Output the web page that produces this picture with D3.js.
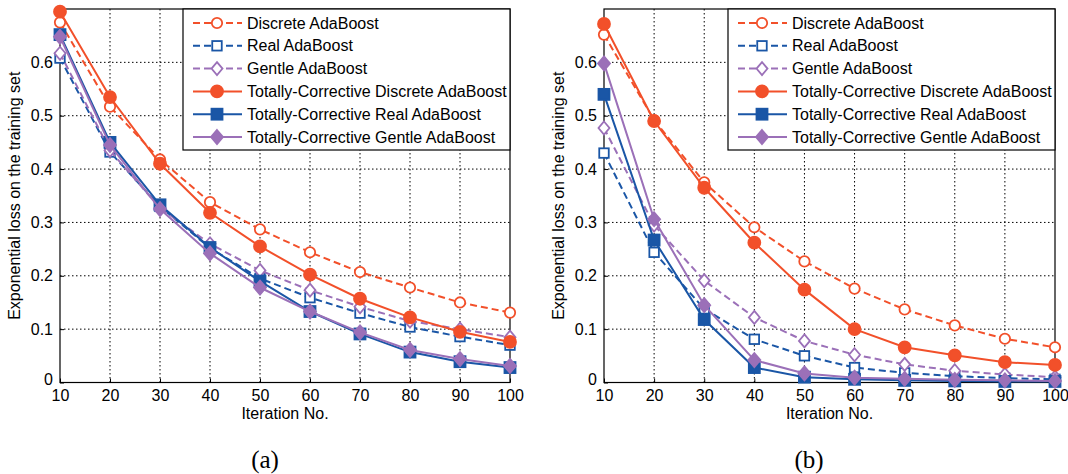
<!DOCTYPE html>
<html>
<head>
<meta charset="utf-8">
<script src="https://cdn.jsdelivr.net/npm/d3@7"></script>
<style>
  body { margin: 0; background: #fff; }
  text { font-family: "Liberation Sans", Arial, sans-serif; }
</style>
</head>
<body>
<svg id="chart" width="1068" height="474"></svg>
<script>
// iteration numbers on the x axis
const iterations = [10, 20, 30, 40, 50, 60, 70, 80, 90, 100];
const yTicks = [0, 0.1, 0.2, 0.3, 0.4, 0.5, 0.6];

const seriesNames = [
  "Discrete AdaBoost",
  "Real AdaBoost",
  "Gentle AdaBoost",
  "Totally-Corrective Discrete AdaBoost",
  "Totally-Corrective Real AdaBoost",
  "Totally-Corrective Gentle AdaBoost"
];

// panel (a)
const aDiscrete   = [0.675, 0.517, 0.418, 0.338, 0.287, 0.244, 0.207, 0.178, 0.150, 0.131];
const aReal       = [0.608, 0.432, 0.330, 0.252, 0.195, 0.159, 0.130, 0.104, 0.086, 0.070];
const aGentle     = [0.617, 0.435, 0.327, 0.260, 0.210, 0.173, 0.142, 0.115, 0.100, 0.085];
const aTCDiscrete = [0.695, 0.535, 0.410, 0.318, 0.255, 0.202, 0.157, 0.122, 0.095, 0.076];
const aTCReal     = [0.652, 0.450, 0.333, 0.253, 0.190, 0.133, 0.091, 0.057, 0.039, 0.028];
const aTCGentle   = [0.648, 0.445, 0.325, 0.242, 0.178, 0.133, 0.094, 0.061, 0.044, 0.031];

// panel (b)
const bDiscrete   = [0.652, 0.492, 0.375, 0.291, 0.227, 0.176, 0.137, 0.107, 0.082, 0.066];
const bReal       = [0.430, 0.244, 0.138, 0.081, 0.050, 0.028, 0.018, 0.012, 0.008, 0.006];
const bGentle     = [0.477, 0.295, 0.191, 0.122, 0.078, 0.052, 0.034, 0.022, 0.015, 0.010];
const bTCDiscrete = [0.672, 0.490, 0.365, 0.262, 0.174, 0.100, 0.066, 0.051, 0.038, 0.033];
const bTCReal     = [0.540, 0.267, 0.118, 0.028, 0.010, 0.006, 0.004, 0.003, 0.002, 0.002];
const bTCGentle   = [0.598, 0.306, 0.145, 0.042, 0.017, 0.009, 0.007, 0.005, 0.004, 0.003];

const orange = "#f2502a", blue = "#1a56a6", purple = "#9b70b8";
const styles = [
  {color: orange, dash: "7,4", marker: "circle", filled: false},
  {color: blue,   dash: "7,4", marker: "square", filled: false},
  {color: purple, dash: "7,4", marker: "diamond", filled: false},
  {color: orange, dash: null,  marker: "circle", filled: true},
  {color: blue,   dash: null,  marker: "square", filled: true},
  {color: purple, dash: null,  marker: "diamond", filled: true}
];

const fs = 16;
const svg = d3.select("#chart");

function drawMarker(g, style, x, y) {
  const fill = style.filled ? style.color : "#fff";
  const sw = 1.8;
  if (style.marker === "circle") {
    g.append("circle").attr("cx", x).attr("cy", y)
      .attr("r", style.filled ? 6 : 5.2)
      .attr("fill", fill).attr("stroke", style.color).attr("stroke-width", sw);
  } else if (style.marker === "square") {
    const s = style.filled ? 11 : 9.5;
    g.append("rect").attr("x", x - s / 2).attr("y", y - s / 2)
      .attr("width", s).attr("height", s)
      .attr("fill", fill).attr("stroke", style.color).attr("stroke-width", sw);
  } else {
    const h = style.filled ? 7 : 6.5, w = style.filled ? 6 : 5.5;
    g.append("path")
      .attr("d", `M${x},${y - h}L${x + w},${y}L${x},${y + h}L${x - w},${y}Z`)
      .attr("fill", fill).attr("stroke", style.color).attr("stroke-width", sw);
  }
}

function drawPanel(opts) {
  const x = d3.scaleLinear().domain([10, 100]).range([opts.left, opts.right]);
  const y = d3.scaleLinear().domain([0, 0.7]).range([382.5, 9]);
  const g = svg.append("g");

  // grid
  g.selectAll(".vgrid").data(iterations.slice(1, -1)).enter().append("line")
    .attr("x1", d => x(d)).attr("x2", d => x(d))
    .attr("y1", y(0)).attr("y2", y(0.7))
    .attr("stroke", "#000").attr("stroke-width", 1).attr("stroke-dasharray", "1.5,2.5");
  g.selectAll(".hgrid").data(yTicks.slice(1)).enter().append("line")
    .attr("x1", x(10)).attr("x2", x(100))
    .attr("y1", d => y(d)).attr("y2", d => y(d))
    .attr("stroke", "#000").attr("stroke-width", 1).attr("stroke-dasharray", "1.5,2.5");

  // axes
  const xAxis = g.append("g").attr("transform", `translate(0,${y(0)})`)
    .call(d3.axisBottom(x).tickValues(iterations).tickSize(-4).tickPadding(7));
  const yAxis = g.append("g").attr("transform", `translate(${x(10)},0)`)
    .call(d3.axisLeft(y).tickValues(yTicks).tickSize(-4).tickPadding(7)
      .tickFormat(d => d === 0 ? "0" : d.toFixed(1)));
  [xAxis, yAxis].forEach(a => {
    a.select(".domain").remove();
    a.selectAll("text").attr("font-size", fs).attr("fill", "#000")
      .attr("font-family", "'Liberation Sans', Arial, sans-serif");
  });
  // the "0" label sits in the corner next to "10", lift it a little
  yAxis.selectAll(".tick").filter(d => d === 0).select("text").attr("dy", "0.1em");

  // frame
  g.append("rect").attr("x", x(10)).attr("y", y(0.7))
    .attr("width", x(100) - x(10)).attr("height", y(0) - y(0.7))
    .attr("fill", "none").attr("stroke", "#000").attr("stroke-width", 1.2);

  // series
  const line = d3.line().x((d, i) => x(iterations[i])).y(d => y(d));
  opts.series.forEach((vals, si) => {
    const st = styles[si];
    g.append("path").attr("d", line(vals)).attr("fill", "none")
      .attr("stroke", st.color).attr("stroke-width", 2)
      .attr("stroke-dasharray", st.dash);
    vals.forEach((v, i) => drawMarker(g, st, x(iterations[i]), y(v)));
  });

  // legend
  const lx = opts.legendX, ly = y(0.7);
  const lw = x(100) - lx;
  g.append("rect").attr("x", lx).attr("y", ly).attr("width", lw).attr("height", 141)
    .attr("fill", "#fff").attr("stroke", "#000").attr("stroke-width", 1.2);
  seriesNames.forEach((name, i) => {
    const st = styles[i];
    const ry = ly + 14 + i * 22.8;
    g.append("line").attr("x1", lx + 10).attr("x2", lx + 59)
      .attr("y1", ry).attr("y2", ry)
      .attr("stroke", st.color).attr("stroke-width", 2).attr("stroke-dasharray", st.dash);
    drawMarker(g, st, lx + 34, ry);
    g.append("text").attr("x", lx + 64).attr("y", ry + 5.5)
      .attr("font-size", fs).text(name);
  });

  // labels
  g.append("text")
    .attr("transform", `translate(${opts.left - 40},${(y(0) + y(0.7)) / 2}) rotate(-90)`)
    .attr("text-anchor", "middle").attr("font-size", fs)
    .text("Exponential loss on the training set");
  g.append("text").attr("x", (opts.left + opts.right) / 2).attr("y", 419)
    .attr("text-anchor", "middle").attr("font-size", fs).text("Iteration No.");
  g.append("text").attr("x", opts.capX).attr("y", 468)
    .attr("text-anchor", "middle").attr("font-size", 25)
    .style("font-family", "'Liberation Serif', 'Times New Roman', serif")
    .text(opts.caption);
}

drawPanel({
  left: 60, right: 510, legendX: 183, capX: 265, caption: "(a)",
  series: [aDiscrete, aReal, aGentle, aTCDiscrete, aTCReal, aTCGentle]
});
drawPanel({
  left: 604, right: 1055, legendX: 728, capX: 809, caption: "(b)",
  series: [bDiscrete, bReal, bGentle, bTCDiscrete, bTCReal, bTCGentle]
});
</script>
</body>
</html>
